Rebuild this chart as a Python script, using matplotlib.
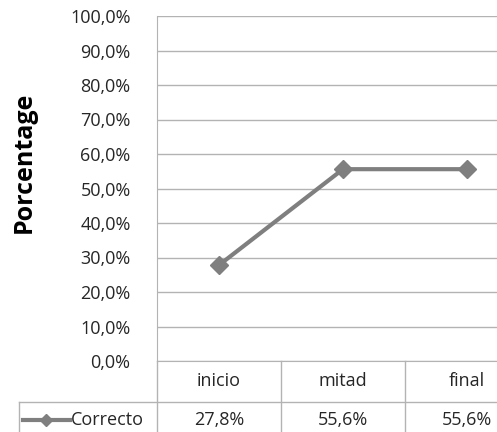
import matplotlib
matplotlib.use("Agg")
import matplotlib.pyplot as plt

categories = ["inicio", "mitad", "final"]
series_name = "Correcto"
correcto = [27.8, 55.6, 55.6]
y_ticks = [0, 10, 20, 30, 40, 50, 60, 70, 80, 90, 100]


def pct(v):
    return f"{v:.1f}%".replace(".", ",")


plt.rcParams["font.family"] = ["Open Sans", "DejaVu Sans"]

W, H = 497, 432
fig = plt.figure(figsize=(W / 100, H / 100), dpi=100)
# plot area in pixels: left 157, right 529 (cropped), top 16, bottom 361
left, right, top, bottom = 157, 529, 16, 361
ax = fig.add_axes([left / W, (H - bottom) / H, (right - left) / W, (bottom - top) / H])

grid_c = "#b3b3b3"
line_c = "#7f7f7f"
text_c = "#262626"
fs = 13

x = list(range(len(categories)))
ax.plot(x, correcto, color=line_c, lw=3, marker="D", ms=9, zorder=3)

ax.set_xlim(-0.5, len(categories) - 0.5)
ax.set_ylim(0, 100)
ax.set_yticks(y_ticks)
ax.set_yticklabels([pct(v) for v in y_ticks], fontsize=fs, color=text_c)
ax.tick_params(axis="y", length=0, pad=19)
ax.set_xticks([])
ax.grid(axis="y", color=grid_c, lw=1)
for s in ["top", "right"]:
    ax.spines[s].set_visible(False)
ax.spines["left"].set_color(grid_c)
ax.spines["bottom"].set_color(grid_c)

ax.set_ylabel("Porcentage", fontsize=18, fontweight="bold", color="black")
ax.yaxis.set_label_coords(-(left - 37) / (right - left), (bottom - 162) / (bottom - top))

# data table below the plot
unit = 100 / (bottom - top)  # data units per pixel
row_h = 41 * unit
leg_left = -0.5 - (left - 19) / ((right - left) / 3)
for xv in [-0.5, 0.5, 1.5, 2.5]:
    ax.plot([xv, xv], [0, -2.2 * row_h], color=grid_c, lw=1, clip_on=False)
ax.plot([leg_left, 2.5], [-row_h, -row_h], color=grid_c, lw=1, clip_on=False)
ax.plot([leg_left, leg_left], [-row_h, -2.2 * row_h], color=grid_c, lw=1, clip_on=False)

for xi, cat, val in zip(x, categories, correcto):
    ax.text(xi, -0.48 * row_h, cat, ha="center", va="center", fontsize=fs,
            color=text_c, clip_on=False)
    ax.text(xi, -1.45 * row_h, pct(val), ha="center", va="center", fontsize=fs,
            color=text_c, clip_on=False)

# legend key inside the table
key_y = -1.45 * row_h
kx0 = leg_left + 0.03
kx1 = kx0 + 0.38
ax.plot([kx0, kx1], [key_y, key_y], color=line_c, lw=3, clip_on=False)
ax.plot([(kx0 + kx1) / 2], [key_y], color=line_c, marker="D", ms=6.5, clip_on=False)
ax.text(kx1 + 0.01, key_y, series_name, ha="left", va="center", fontsize=fs,
        color=text_c, clip_on=False)

fig.savefig("out.png", dpi=100)
